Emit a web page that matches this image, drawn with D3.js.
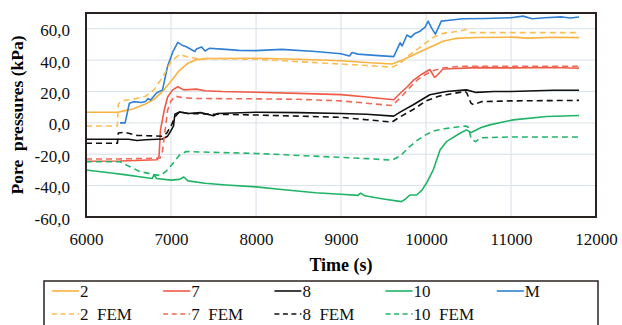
<!DOCTYPE html>
<html>
<head>
<meta charset="utf-8">
<script src="https://cdn.jsdelivr.net/npm/d3@7"></script>
<style>
  body { margin: 0; background: #fff; }
</style>
</head>
<body>
<div id="chart"></div>
<script>
// --- data: [time (s), pore pressure (kPa)] ---
const s2 = [[6000,6.8],[6380,6.8],[6420,7.3],[6550,8.8],[6700,12],[6800,15],[6900,20],[7000,26.5],[7100,33.5],[7200,38],[7300,40.3],[7450,41],[8000,41.2],[8500,40.5],[9000,39.6],[9300,38.5],[9600,37.5],[9700,39.5],[9800,42],[9900,44.5],[10000,47],[10100,49.5],[10200,52],[10350,53.8],[10600,54.4],[11000,54.6],[11200,54],[11500,54.5],[11800,54.3]];
const s7 = [[6000,-24.5],[6400,-24.3],[6840,-23.5],[6860,-21],[6875,-5],[6920,8],[6960,16.5],[7020,21],[7080,23],[7150,21],[7300,21.5],[7400,20.5],[7600,20],[8000,19.5],[8500,18.8],[9000,18],[9300,16.5],[9620,14.7],[9700,19],[9780,23],[9850,27],[9950,31],[10045,34],[10100,29],[10125,30],[10200,34.3],[10600,35.2],[11000,35],[11500,35.3],[11800,34.8]];
const s8 = [[6000,-10.5],[6500,-10.5],[6600,-11.3],[6700,-10.8],[6900,-10.3],[6960,-8.5],[7000,-5],[7030,-2],[7045,5.5],[7100,7],[7200,6],[7350,6.5],[7500,4.5],[7550,6],[8000,6.8],[8500,6.5],[9000,6],[9300,5.5],[9620,4.3],[9700,7],[9850,11.5],[10045,17.9],[10240,20],[10475,21],[10590,19.4],[10800,20],[11000,20],[11500,20.8],[11800,20.8]];
const s10 = [[6000,-30],[6150,-31],[6300,-32],[6450,-33],[6630,-34.3],[6780,-35.5],[6800,-33],[6830,-35.5],[7000,-36.5],[7100,-36],[7150,-34.5],[7200,-37],[7400,-38.5],[7650,-39.6],[8000,-40.8],[8300,-42.5],[8700,-44.5],[9000,-45.5],[9200,-46.2],[9230,-44.8],[9280,-46.5],[9500,-48.5],[9710,-50.2],[9760,-48.5],[9810,-46],[9890,-46],[9950,-43],[10005,-38.5],[10085,-30],[10165,-17.3],[10240,-12],[10400,-6.6],[10475,-4.5],[10530,-6.2],[10650,-3],[10750,-1.3],[11025,1.9],[11420,4],[11800,4.7]];
const sM = [[6400,0],[6460,0],[6510,12.5],[6560,13.5],[6650,13],[6700,13.6],[6730,15.5],[6760,14.5],[6830,19],[6900,21],[6960,36],[7020,45],[7080,51.3],[7130,49.5],[7180,48.5],[7280,45.5],[7300,47],[7360,48.4],[7400,45.8],[7450,47.5],[7600,47],[7800,46.2],[8000,46],[8300,46.8],[8700,45.5],[9000,44],[9100,42.6],[9130,44.8],[9200,43.8],[9400,43],[9620,42.2],[9695,51],[9720,49],[9775,56],[9820,54.5],[9870,57],[9930,58.4],[9990,61],[10025,64.8],[10070,60],[10110,56.5],[10140,60],[10180,64.8],[10300,65.5],[10435,66.3],[10700,66.5],[11000,67],[11140,68],[11250,66.3],[11400,67],[11600,67.5],[11700,66.8],[11800,67.5]];
const s2fem = [[6000,-2],[6370,-2],[6380,12],[6420,14],[6550,15],[6700,17],[6800,21],[6900,29],[7000,39],[7100,43.5],[7200,42],[7300,41],[8000,40.5],[8500,39],[9000,37.5],[9300,36.5],[9600,35.5],[9700,38],[9800,43],[9900,47],[10000,51],[10100,55],[10200,57],[10400,58.5],[10470,59.5],[10520,57.5],[11000,57.5],[11800,57.5]];
const s7fem = [[6000,-23],[6400,-23],[6870,-22.5],[6900,-18],[6930,-5],[6960,8],[7000,14],[7050,17],[7150,16],[7300,15.5],[8000,15.3],[8500,15],[9000,14],[9300,12.5],[9600,11],[9700,16],[9800,22],[9900,27.5],[10000,31],[10100,33.5],[10200,35],[10400,36],[11000,36],[11800,36]];
const s8fem = [[6000,-13],[6370,-13],[6380,-6.5],[6450,-6],[6600,-8],[6900,-8.5],[6950,-6.5],[7000,-2],[7050,4],[7100,7],[7200,6],[7500,5.5],[8000,5],[8500,4.3],[9000,3.5],[9300,2],[9600,0.5],[9700,4],[9850,8.5],[10000,14],[10150,17],[10300,18.5],[10460,20],[10480,19],[10530,12.5],[10560,11.5],[10650,13.5],[11000,14],[11800,14.3]];
const s10fem = [[6000,-24.8],[6400,-24.8],[6500,-27.5],[6630,-31],[6800,-33],[6870,-33.5],[6940,-31],[7020,-26],[7100,-20.5],[7180,-18.3],[7500,-18.8],[8000,-19.5],[8500,-20.8],[9000,-22],[9300,-22.8],[9600,-23.8],[9700,-21],[9800,-15.5],[9900,-11],[10000,-7.5],[10100,-5],[10250,-3.5],[10470,-2],[10500,-3],[10530,-10],[10580,-12],[10650,-9.5],[11000,-9],[11800,-9]];

const xTicks = [6000, 7000, 8000, 9000, 10000, 11000, 12000];
const yTicks = [-60, -40, -20, 0, 20, 40, 60];

const series = [
  { name: "2", data: s2, color: "#f9b23f", dash: null },
  { name: "7", data: s7, color: "#ef5a45", dash: null },
  { name: "8", data: s8, color: "#111111", dash: null },
  { name: "10", data: s10, color: "#1fb465", dash: null },
  { name: "M", data: sM, color: "#2f80d3", dash: null },
  { name: "2\u00a0\u00a0FEM", data: s2fem, color: "#fbbd55", dash: "6,4" },
  { name: "7\u00a0\u00a0FEM", data: s7fem, color: "#f06a58", dash: "6,4" },
  { name: "8\u00a0\u00a0FEM", data: s8fem, color: "#111111", dash: "6,4" },
  { name: "10\u00a0\u00a0FEM", data: s10fem, color: "#22b56a", dash: "6,4" }
];

const FONT = "'Liberation Serif', 'Times New Roman', 'DejaVu Serif', serif";
const W = 622, H = 325;
const margin = { top: 13, right: 26, bottom: 108, left: 86 };
const width = W - margin.left - margin.right;
const height = H - margin.top - margin.bottom;

const svg = d3.select("#chart").append("svg")
  .attr("width", W).attr("height", H)
  .attr("font-family", FONT);

const g = svg.append("g")
  .attr("transform", `translate(${margin.left},${margin.top})`);

const x = d3.scaleLinear().domain([6000, 12000]).range([0, width]);
const y = d3.scaleLinear().domain([-60, 70]).range([height, 0]);

// gridlines
g.append("g").selectAll("line").data(yTicks).join("line")
  .attr("x1", 0).attr("x2", width)
  .attr("y1", d => y(d)).attr("y2", d => y(d))
  .attr("stroke", "#d8e0ea").attr("stroke-width", 1);
g.append("g").selectAll("line").data(xTicks).join("line")
  .attr("x1", d => x(d)).attr("x2", d => x(d))
  .attr("y1", 0).attr("y2", height)
  .attr("stroke", "#d8e0ea").attr("stroke-width", 1);

// axes (labels only)
const fmt = d => d3.format(".1f")(d).replace(".", ",").replace("\u2212", "-");
const yAxis = g.append("g").attr("transform", "translate(-16,0)")
  .call(d3.axisLeft(y).tickValues(yTicks).tickFormat(fmt).tickSize(0).tickPadding(0));
yAxis.attr("font-family", FONT);
yAxis.select(".domain").remove();
yAxis.selectAll("text").attr("font-size", "17px").attr("fill", "#111").attr("dy", "0.42em");

const xAxis = g.append("g").attr("transform", `translate(0,${height})`)
  .call(d3.axisBottom(x).tickValues(xTicks).tickFormat(d3.format("d")).tickSize(0).tickPadding(16));
xAxis.attr("font-family", FONT);
xAxis.select(".domain").remove();
xAxis.selectAll("text").attr("font-size", "17px").attr("fill", "#111");

// lines
svg.append("clipPath").attr("id", "plotclip")
  .append("rect").attr("width", width).attr("height", height);
const line = d3.line().x(d => x(d[0])).y(d => y(d[1]));
g.append("g").attr("clip-path", "url(#plotclip)")
  .selectAll("path").data(series).join("path")
  .attr("d", d => line(d.data))
  .attr("fill", "none")
  .attr("stroke", d => d.color)
  .attr("stroke-width", 1.6)
  .attr("stroke-dasharray", d => d.dash)
  .attr("stroke-linejoin", "round");

// plot border
g.append("rect").attr("width", width).attr("height", height)
  .attr("fill", "none").attr("stroke", "#2a2220").attr("stroke-width", 2);

// axis titles
svg.append("text")
  .attr("x", margin.left + width / 2).attr("y", 271)
  .attr("text-anchor", "middle").attr("font-weight", "bold").attr("font-size", "18px")
  .text("Time (s)");
svg.append("text")
  .attr("transform", "translate(23,115) rotate(-90)")
  .attr("text-anchor", "middle").attr("font-weight", "bold").attr("font-size", "17.5px")
  .text("Pore\u00a0\u00a0pressures (kPa)");

// legend
const legend = svg.append("g");
legend.append("rect").attr("x", 44).attr("y", 281).attr("width", 554).attr("height", 60)
  .attr("fill", "#fff").attr("stroke", "#2a2220").attr("stroke-width", 1.5);
const item = legend.selectAll("g").data(series).join("g")
  .attr("transform", (d, i) => `translate(${52 + (i % 5) * 111.2},${i < 5 ? 291 : 314})`);
item.append("line").attr("x1", 0).attr("x2", 27).attr("y1", 0).attr("y2", 0)
  .attr("stroke", d => d.color).attr("stroke-width", 1.6)
  .attr("stroke-dasharray", d => d.dash ? "5,3.5" : null);
item.append("text").attr("x", 28).attr("y", 6)
  .attr("font-size", "17px").attr("fill", "#111")
  .text(d => d.name);
</script>
</body>
</html>
